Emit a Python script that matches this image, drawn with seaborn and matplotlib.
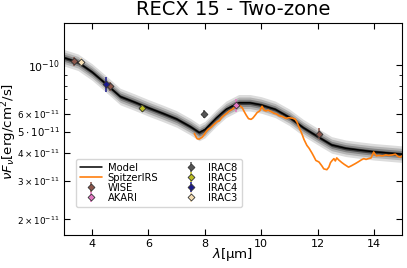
import numpy as np
import pandas as pd
import seaborn as sns
import matplotlib
matplotlib.use('Agg')
import matplotlib.pyplot as plt

sns.set_style('ticks', {'axes.edgecolor': 'black', 'text.color': 'black',
                        'axes.labelcolor': 'black', 'xtick.color': 'black',
                        'ytick.color': 'black'})
plt.rcParams['font.family'] = ['DejaVu Sans']
plt.rcParams['mathtext.fontset'] = 'dejavusans'

# modelo (curva central)
model_wl = [3.0, 3.5, 4.0, 4.5, 5.0, 5.5, 6.0, 6.5, 7.0, 7.5, 7.8, 8.0, 8.4, 8.75,
            9.2, 9.6, 10.0, 10.5, 11.0, 11.5, 12.0, 12.5, 13.0, 13.5, 14.0, 14.5, 15.0]
model_flux = [1.08e-10, 1.03e-10, 9.3e-11, 8.2e-11, 7.2e-11, 6.8e-11, 6.4e-11, 6.05e-11,
              5.7e-11, 5.25e-11, 4.95e-11, 5.1e-11, 5.75e-11, 6.3e-11, 6.75e-11, 6.75e-11,
              6.6e-11, 6.3e-11, 5.8e-11, 5.2e-11, 4.75e-11, 4.35e-11, 4.2e-11, 4.12e-11,
              4.05e-11, 4.0e-11, 3.95e-11]

# espectro Spitzer IRS
irs_wl = [7.63, 7.68, 7.73, 7.80, 7.91, 7.98, 8.05, 8.12, 8.23, 8.30, 8.37, 8.44, 8.52,
          8.60, 8.69, 8.78, 8.87, 8.95, 9.03, 9.11, 9.22, 9.33, 9.40, 9.47, 9.55, 9.64,
          9.70, 9.75, 9.86, 9.95, 10.03, 10.10, 10.17, 10.25, 10.38, 10.45, 10.55, 10.63,
          10.75, 10.88, 10.98, 11.10, 11.20, 11.27, 11.35, 11.44, 11.52, 11.62, 11.70,
          11.80, 11.87, 11.94, 12.05, 12.15, 12.22, 12.33, 12.40, 12.46, 12.52, 12.58,
          12.63, 12.68, 12.75, 12.86, 12.95, 13.10, 13.20, 13.34, 13.45, 13.55, 13.64,
          13.72, 13.80, 13.90, 13.99, 14.08, 14.17, 14.30, 14.42, 14.52, 14.65, 14.76,
          14.85, 14.93, 15.0]
irs_flux = [4.90e-11, 4.75e-11, 4.64e-11, 4.62e-11, 4.72e-11, 4.85e-11, 5.00e-11, 5.12e-11,
            5.24e-11, 5.35e-11, 5.45e-11, 5.55e-11, 5.60e-11, 5.80e-11, 5.93e-11, 6.05e-11,
            6.20e-11, 6.28e-11, 6.40e-11, 6.45e-11, 6.58e-11, 6.40e-11, 6.15e-11, 5.93e-11,
            5.72e-11, 5.68e-11, 5.75e-11, 5.85e-11, 6.10e-11, 6.20e-11, 6.51e-11, 6.25e-11,
            6.20e-11, 6.25e-11, 6.13e-11, 6.05e-11, 6.00e-11, 5.90e-11, 5.85e-11, 5.73e-11,
            5.78e-11, 5.75e-11, 5.70e-11, 5.52e-11, 5.20e-11, 4.90e-11, 4.60e-11, 4.33e-11,
            4.20e-11, 4.00e-11, 3.85e-11, 3.70e-11, 3.64e-11, 3.50e-11, 3.39e-11, 3.36e-11,
            3.45e-11, 3.62e-11, 3.70e-11, 3.77e-11, 3.68e-11, 3.80e-11, 3.72e-11, 3.62e-11,
            3.55e-11, 3.45e-11, 3.50e-11, 3.58e-11, 3.65e-11, 3.72e-11, 3.77e-11, 3.74e-11,
            3.77e-11, 3.80e-11, 4.04e-11, 3.88e-11, 3.90e-11, 3.88e-11, 3.92e-11, 3.90e-11,
            3.92e-11, 3.95e-11, 3.86e-11, 3.83e-11, 3.88e-11]

# fotometria
phot_names = ['WISE', 'AKARI', 'IRAC8', 'IRAC5', 'IRAC4', 'IRAC3']
phot_colors = ['#8c564b', '#e377c2', '#555555', '#bcbd22', '#1a1a8c', '#f5deb3']
phot_wl = [[3.35, 4.63, 12.05], [9.1], [7.98], [5.78], [4.48], [3.6]]
phot_flux = [[1.04e-10, 8.0e-11, 4.9e-11], [6.58e-11], [6.03e-11], [6.36e-11], [8.2e-11], [1.035e-10]]
phot_err = [[0.05, 0.05, 0.06], [0.07], [0.04], [0.04], [0.08], [0.04]]

df_model = pd.DataFrame({'wl': model_wl, 'flux': model_flux})
df_irs = pd.DataFrame({'wl': irs_wl, 'flux': irs_flux})

fig, ax = plt.subplots(figsize=(4.07, 2.68), dpi=100)
fig.subplots_adjust(left=0.157, right=0.988, bottom=0.123, top=0.914)

# bandas de incerteza do modelo
for fator, cor in [(1.09, '#dcdcdc'), (1.062, '#b4b4b4'), (1.038, '#858585'), (1.018, '#404040')]:
    ax.fill_between(df_model['wl'], df_model['flux'] / fator, df_model['flux'] * fator,
                    color=cor, lw=0)

sns.lineplot(data=df_model, x='wl', y='flux', color='k', lw=1.1, label='Model', ax=ax)
sns.lineplot(data=df_irs, x='wl', y='flux', color='#ff7f0e', lw=1.2, label='SpitzerIRS', ax=ax)

for nome, cor, wl, fl, er in zip(phot_names, phot_colors, phot_wl, phot_flux, phot_err):
    fl = np.array(fl)
    ax.errorbar(wl, fl, yerr=fl * np.array(er), fmt='D', ms=3.5, mfc=cor, mec='#333333',
                mew=0.6, ecolor=cor, elinewidth=1.1, label=nome, zorder=5)

ax.set_yscale('log')
ax.set_xlim(3, 15)
ax.set_ylim(1.7e-11, 1.55e-10)
ax.set_xticks([4, 6, 8, 10, 12, 14])
ax.tick_params(axis='x', labelsize=8)
ax.set_yticks([1e-10, 6e-11, 5e-11, 4e-11, 3e-11, 2e-11])
ax.set_yticklabels([r'$10^{-10}$', r'$6\times10^{-11}$', r'$5\cdot10^{-11}$',
                    r'$4\times10^{-11}$', r'$3\times10^{-11}$', r'$2\times10^{-11}$'])
ax.yaxis.set_minor_formatter(matplotlib.ticker.NullFormatter())
for i, lab in enumerate(ax.get_yticklabels()):
    lab.set_fontsize(7.8 if i == 0 else (7.3 if i == 2 else 6.4))
ax.tick_params(which='both', direction='in', top=True, right=True, pad=3)
ax.tick_params(which='major', length=4)
ax.tick_params(which='minor', length=2)

ax.set_xlabel(r'$\lambda$[µm]', fontsize=9.6)
ax.set_ylabel(r'$\nu F_\nu$[erg/cm$^2$/s]', fontsize=9.6)
ax.xaxis.set_label_coords(0.5, -0.05)
ax.yaxis.set_label_coords(-0.132, 0.49)
ax.set_title('RECX 15 - Two-zone', fontsize=14)

ax.legend(loc='lower left', bbox_to_anchor=(0.02, 0.11), ncol=2, fontsize=7.2,
          handlelength=2.2, labelspacing=0.0, columnspacing=2.2, borderpad=0.4,
          handletextpad=0.6)

fig.savefig('out.png', dpi=100)
